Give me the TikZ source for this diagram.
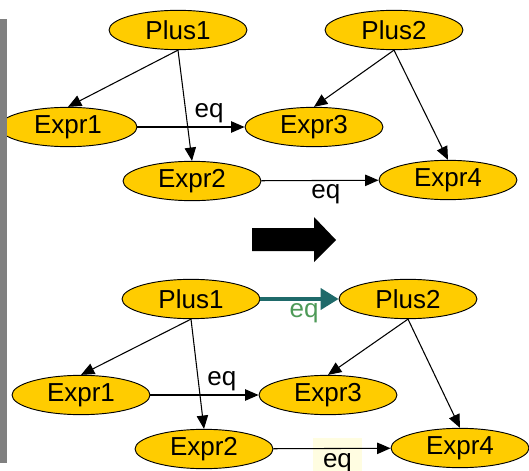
\documentclass[tikz,border=0pt]{standalone}
\usepackage{fontspec}
\setmainfont{Liberation Sans}
\usetikzlibrary{arrows.meta,shapes.geometric}
\definecolor{gold}{RGB}{255,204,0}
\definecolor{eqteal}{RGB}{31,106,106}
\definecolor{eqgreen}{RGB}{78,154,88}
\definecolor{eqbg}{RGB}{255,253,225}
\definecolor{bargray}{RGB}{128,128,128}
\tikzset{
  term/.style={ellipse,draw,line width=0.7pt,fill=gold,inner sep=0pt,
    minimum width=103.5pt,minimum height=29.5pt},
  arr/.style={line width=0.8pt,-{Triangle[length=10pt,width=8.5pt]}},
  lab/.style={inner sep=2.5pt}
}

\begin{document}
\begin{tikzpicture}[x=0.75pt,y=-0.75pt,font=\fontsize{19.5}{21}\selectfont]
  \clip (0,0) rectangle (529,471);
  % before
  \begin{scope}
    \node[term] (p1) at (178,30) {Plus1};
    \node[term] (p2) at (394,30) {Plus2};
    \node[term] (e1) at (68,127) {Expr1};
    \node[term] (e3) at (314,127) {Expr3};
    \node[term] (e2) at (192,181) {Expr2};
    \node[term] (e4) at (448,180) {Expr4};
    \draw[arr] (p1.south) -- (e1.north);
    \draw[arr] (p1.south) -- (e2.north);
    \draw[arr] (p2.south) -- (e3.north);
    \draw[arr] (p2.south) -- (e4.north);
    \draw[arr] (e1) -- node[pos=0.67,above,lab] (q1) {eq} (e3);
    \draw[arr] (e2) -- node[pos=0.55,below,lab] (q2) {eq} (e4);
  \end{scope}
  % big arrow
  \fill (252,228) -- (314,228) -- (314,217) -- (336,240) -- (314,262)
    -- (314,251) -- (252,251) -- cycle;
  % after
  \begin{scope}
    \node[term] (p1b) at (191,299) {Plus1};
    \node[term] (p2b) at (408,299) {Plus2};
    \node[term] (e1b) at (81,395) {Expr1};
    \node[term] (e3b) at (328,395) {Expr3};
    \node[term] (e2b) at (204,449) {Expr2};
    \node[term] (e4b) at (460,448) {Expr4};
    % highlighted label sits behind the line
    \node[fill=eqbg,minimum width=36.75pt,minimum height=38pt,inner sep=0pt] (q5) at (337.5,463) {eq};
    \draw[line width=2.4pt,eqteal,-{Triangle[length=13.5pt,width=16pt]}] (p1b) --
      node[pos=0.56,below,lab,text=eqgreen] (q3) {eq} (p2b);
    \draw[arr] (p1b.south) -- (e1b.north);
    \draw[arr] (p1b.south) -- (e2b.north);
    \draw[arr] (p2b.south) -- (e3b.north);
    \draw[arr] (p2b.south) -- (e4b.north);
    \draw[arr] (e1b) -- node[pos=0.66,above,lab] (q4) {eq} (e3b);
    \draw[arr] (e2b) -- (e4b);
  \end{scope}
  % side bar
  \fill[bargray] (0,19) rectangle (7,463);
\end{tikzpicture}
\end{document}
